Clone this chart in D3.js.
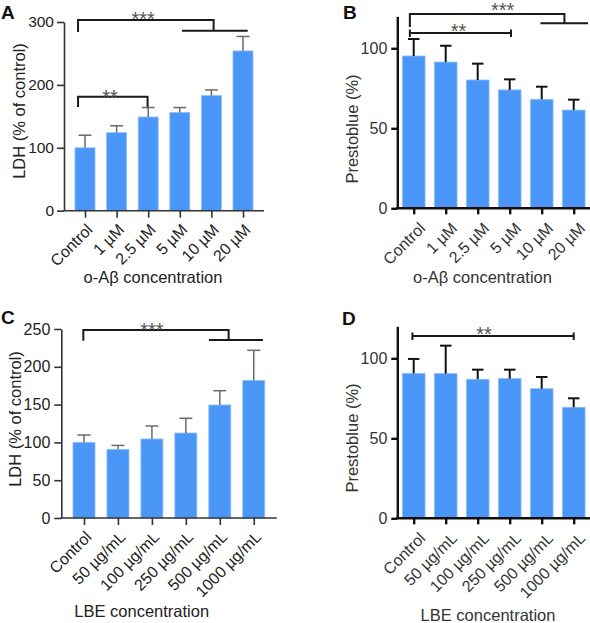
<!DOCTYPE html>
<html>
<head>
<meta charset="utf-8">
<script src="https://cdn.jsdelivr.net/npm/d3@7"></script>
<style>
  html, body { margin: 0; padding: 0; background: #fff; }
  svg { display: block; font-family: "Liberation Sans", Arial, sans-serif; }
</style>
</head>
<body>
<svg id="chart" width="590" height="623"></svg>
<script>
// ---------------- DATA ----------------
const catsAbeta = ["Control", "1 µM", "2.5 µM", "5 µM", "10 µM", "20 µM"];
const catsLbe = ["Control", "50 µg/mL", "100 µg/mL", "250 µg/mL", "500 µg/mL", "1000 µg/mL"];

const ldhAbetaMean = [100, 124, 149, 156, 183, 254];
const ldhAbetaSd   = [20, 11, 15, 8, 9, 23];

const presAbetaMean = [95.2, 91.4, 80.2, 74.0, 68.1, 61.4];
const presAbetaSd   = [10.6, 10.2, 10.2, 6.6, 7.9, 6.5];

const ldhLbeMean = [100, 90.8, 104.5, 112.4, 149.5, 182];
const ldhLbeSd   = [9.8, 5.2, 17.2, 19.5, 18.9, 39.8];

const presLbeMean = [90.6, 90.4, 86.9, 87.3, 81.0, 69.4];
const presLbeSd   = [9.0, 17.5, 6.0, 5.6, 7.3, 5.6];

const ticksLdhAbeta = [0, 100, 200, 300];
const ticksPres = [0, 50, 100];
const ticksLdhLbe = [0, 50, 100, 150, 200, 250];

const titleAbeta = "o-Aβ concentration";
const titleLbe = "LBE concentration";
const titleLdh = "LDH (% of control)";
const titlePres = "Prestoblue (%)";

// ---------------- DRAWING ----------------
const svg = d3.select("#chart");
const BAR = "#4a97f8";

function panel(c) {
  const g = svg.append("g");
  const y = d3.scaleLinear().domain([0, c.yMax]).range([c.y0, c.yTop]);
  const x = d3.scalePoint().domain(c.cats).range([c.first, c.first + c.step * (c.cats.length - 1)]);
  const xi = i => c.first + i * c.step;
  const data = c.cats.map((k, i) => ({k, m: c.mean[i], s: c.sd[i]}));

  // bars
  g.selectAll("rect.bar").data(data).enter().append("rect")
    .attr("x", d => x(d.k) - c.barW / 2)
    .attr("width", c.barW)
    .attr("y", d => y(d.m))
    .attr("height", d => y(0) - y(d.m))
    .attr("fill", BAR)
    .attr("stroke", "#8dbdfb").attr("stroke-width", 0.8);

  // error bars (upper only)
  const eb = g.selectAll("g.err").data(data).enter().append("g")
    .attr("stroke", c.errColor).attr("stroke-width", c.errW).attr("fill", "none");
  eb.append("line").attr("x1", d => x(d.k)).attr("x2", d => x(d.k))
    .attr("y1", d => y(d.m)).attr("y2", d => y(d.m + d.s));
  eb.append("line").attr("x1", d => x(d.k) - c.capW / 2).attr("x2", d => x(d.k) + c.capW / 2)
    .attr("y1", d => y(d.m + d.s)).attr("y2", d => y(d.m + d.s));

  // y axis
  const ya = g.append("g").attr("transform", `translate(${c.axisX},0)`)
    .call(d3.axisLeft(y).tickValues(c.ticks).tickSize(c.tickLen).tickSizeOuter(0).tickPadding(c.yPad));
  ya.select(".domain").attr("stroke", c.axisColor).attr("stroke-width", c.axisW);
  ya.selectAll(".tick line").attr("stroke", c.axisColor).attr("stroke-width", c.axisW);
  ya.selectAll(".tick text").attr("font-size", c.tickFont).attr("fill", c.textColor)
    .attr("font-family", "Liberation Sans, Arial, sans-serif");

  // x axis
  const xa = g.append("g").attr("transform", `translate(0,${c.y0})`)
    .call(d3.axisBottom(x).tickSize(c.tickLen).tickSizeOuter(0));
  xa.select(".domain").remove();
  xa.selectAll(".tick line").attr("stroke", c.axisColor).attr("stroke-width", c.axisW);
  xa.selectAll(".tick text")
    .attr("y", 0).attr("dy", 0)
    .attr("transform", `translate(${c.lblDx},${c.lblDy}) rotate(-45)`)
    .attr("text-anchor", "end")
    .attr("font-size", 16).attr("fill", c.textColor)
    .attr("font-family", "Liberation Sans, Arial, sans-serif");
  g.append("line").attr("x1", c.axisX - c.axisW / 2).attr("x2", c.xEnd)
    .attr("y1", c.y0).attr("y2", c.y0)
    .attr("stroke", c.axisColor).attr("stroke-width", c.axisW);

  // titles
  g.append("text").attr("x", c.xtX).attr("y", c.xtY).attr("text-anchor", "middle")
    .attr("font-size", 16.5).attr("fill", c.textColor).text(c.xTitle);
  g.append("text").attr("transform", `translate(${c.ytX},${c.ytY}) rotate(-90)`)
    .attr("text-anchor", "middle").attr("font-size", 16.5).attr("fill", c.textColor).text(c.yTitle);

  // panel letter
  g.append("text").attr("x", c.letX).attr("y", c.letY).attr("font-size", 19)
    .attr("font-weight", "bold").attr("fill", "#111").text(c.letter);

  // significance brackets
  const bg = g.append("g").attr("stroke", "#1a1a1a").attr("stroke-width", 2).attr("fill", "none");
  c.brackets.forEach(b => {
    bg.append("path").attr("d", b.path(xi));
  });
  c.stars.forEach(s => {
    g.append("text").attr("x", xi(s.i)).attr("y", s.y).attr("text-anchor", "middle")
      .attr("font-size", 20).attr("fill", "#555").text(s.t);
  });
}

// Panel A
panel({
  cats: catsAbeta, mean: ldhAbetaMean, sd: ldhAbetaSd, ticks: ticksLdhAbeta, yMax: 300,
  y0: 210.7, yTop: 22, first: 85, step: 31.6, barW: 20, axisX: 64, xEnd: 264,
  axisColor: "#333", axisW: 1.6, errColor: "#6a6a6a", errW: 1.5, capW: 13,
  tickLen: 7, yPad: 3, tickFont: 15.5, textColor: "#222", lblDx: 8, lblDy: 20,
  xTitle: titleAbeta, xtX: 153, xtY: 283, yTitle: titleLdh, ytX: 25, ytY: 111,
  letter: "A", letX: 1, letY: 18.5,
  brackets: [
    {path: xi => `M${xi(-0.22)},32V20H${xi(4.07)}V30.7M${xi(3.07)},30.7H${xi(5.15)}`},
    {path: xi => `M${xi(-0.22)},107V96.7H${xi(1.98)}V107`}
  ],
  stars: [{i: 1.84, y: 25.5, t: "***"}, {i: 0.79, y: 103.5, t: "**"}]
});

// Panel B
panel({
  cats: catsAbeta, mean: presAbetaMean, sd: presAbetaSd, ticks: ticksPres, yMax: 120,
  y0: 208.3, yTop: 16.3, first: 413.7, step: 32, barW: 22.7, axisX: 397.3, xEnd: 590,
  axisColor: "#111", axisW: 2.4, errColor: "#111", errW: 2, capW: 11.5,
  tickLen: 6, yPad: 4, tickFont: 16, textColor: "#333", lblDx: 12, lblDy: 21,
  xTitle: titleAbeta, xtX: 482.5, xtY: 283, yTitle: titlePres, ytX: 358, ytY: 129,
  letter: "B", letX: 343, letY: 18.5,
  brackets: [
    {path: xi => `M${xi(-0.12)},27V14H${xi(4.71)}V23.3M${xi(3.96)},23.3H${xi(5.45)}`},
    {path: xi => `M${xi(-0.12)},29.5V37M${xi(-0.12)},33H${xi(3.04)}M${xi(3.04)},29.5V37`}
  ],
  stars: [{i: 2.78, y: 16.5, t: "***"}, {i: 1.4, y: 38, t: "**"}]
});

// Panel C
panel({
  cats: catsLbe, mean: ldhLbeMean, sd: ldhLbeSd, ticks: ticksLdhLbe, yMax: 250,
  y0: 518, yTop: 329, first: 84, step: 33.95, barW: 22, axisX: 61.3, xEnd: 276.7,
  axisColor: "#333", axisW: 1.6, errColor: "#6a6a6a", errW: 1.5, capW: 13,
  tickLen: 7, yPad: 4, tickFont: 16, textColor: "#222", lblDx: 8, lblDy: 20,
  xTitle: titleLbe, xtX: 141.7, xtY: 617, yTitle: titleLdh, ytX: 20.5, ytY: 419,
  letter: "C", letX: 1, letY: 324,
  brackets: [
    {path: xi => `M${xi(-0.02)},340.7V330H${xi(4.26)}V340M${xi(3.68)},340H${xi(5.27)}`}
  ],
  stars: [{i: 2.0, y: 337, t: "***"}]
});

// Panel D
panel({
  cats: catsLbe, mean: presLbeMean, sd: presLbeSd, ticks: ticksPres, yMax: 120,
  y0: 518.3, yTop: 326.3, first: 413.7, step: 32, barW: 22.7, axisX: 397.3, xEnd: 590,
  axisColor: "#111", axisW: 2.4, errColor: "#111", errW: 2, capW: 11.5,
  tickLen: 6, yPad: 4, tickFont: 16, textColor: "#333", lblDx: 12, lblDy: 21,
  xTitle: titleLbe, xtX: 488, xtY: 621, yTitle: titlePres, ytX: 358, ytY: 438,
  letter: "D", letX: 342, letY: 325,
  brackets: [
    {path: xi => `M${xi(-0.04)},332.5V340M${xi(-0.04)},336H${xi(5.0)}M${xi(5.0)},332.5V340`}
  ],
  stars: [{i: 2.2, y: 341, t: "**"}]
});
</script>
</body>
</html>
